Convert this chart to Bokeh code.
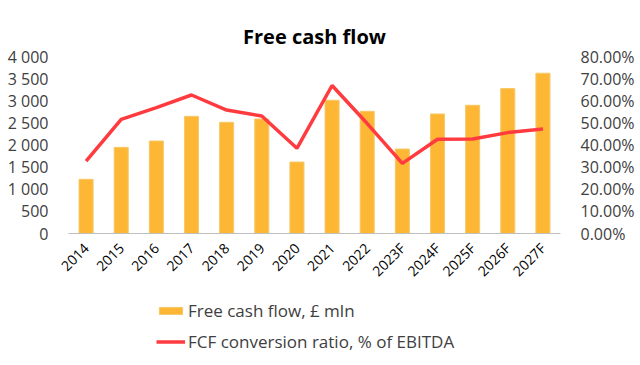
from bokeh.plotting import figure
from bokeh.layouts import column
from bokeh.models import (FactorRange, Range1d, LinearAxis, FixedTicker, CustomJSTickFormatter,
                          NumeralTickFormatter, Legend, LegendItem, ColumnDataSource)
from bokeh.embed import file_html
from bokeh.resources import INLINE
import math

years = ["2014", "2015", "2016", "2017", "2018", "2019", "2020", "2021", "2022",
         "2023F", "2024F", "2025F", "2026F", "2027F"]
fcf = [1225, 1947, 2090, 2648, 2513, 2588, 1615, 3011, 2762, 1909, 2701, 2898, 3275, 3622]
conv = [0.327, 0.516, 0.569, 0.626, 0.558, 0.531, 0.385, 0.669, 0.497, 0.317, 0.426, 0.427, 0.456, 0.472]
left_ticks = [0, 500, 1000, 1500, 2000, 2500, 3000, 3500, 4000]
right_ticks = [0, 0.1, 0.2, 0.3, 0.4, 0.5, 0.6, 0.7, 0.8]
series_names = ["Free cash flow, £ mln", "FCF conversion ratio, % of EBITDA"]

FONT = "Open Sans"
TXT = "#404040"
BAR_COLOR = "#FDB735"
LINE_COLOR = "#FF3B3F"

src = ColumnDataSource(dict(x=years, fcf=fcf, conv=conv))

p = figure(frame_width=492, frame_height=177, x_range=FactorRange(*years, range_padding=0),
           y_range=Range1d(0, 4000), output_backend="svg", toolbar_location=None,
           min_border_left=68, min_border_right=78, min_border_top=56, min_border_bottom=0)
p.extra_y_ranges = {"pct": Range1d(0, 0.8)}
p.outline_line_color = None
p.background_fill_color = "white"
p.xgrid.grid_line_color = None
p.ygrid.grid_line_color = None

p.title.text = "Free cash flow"
p.title.align = "center"
p.title.text_font = FONT
p.title.text_font_style = "bold"
p.title.text_font_size = "20px"
p.title.text_color = "black"
p.title.standoff = 14

p.vbar(x="x", top="fcf", width=0.4, source=src, fill_color=BAR_COLOR,
       line_color="#F4C96A", line_width=1)
p.line(x="x", y="conv", source=src, y_range_name="pct", line_color=LINE_COLOR, line_width=3.5)

ya = p.yaxis[0]
ya.ticker = FixedTicker(ticks=left_ticks)
ya.formatter = CustomJSTickFormatter(code="return tick.toString().replace(/\\B(?=(\\d{3})+(?!\\d))/g, ' ');")
ya.axis_line_color = None
ya.major_tick_line_color = None
ya.minor_tick_line_color = None
ya.major_label_text_font = FONT
ya.major_label_text_font_size = "16px"
ya.major_label_text_color = TXT
ya.major_label_standoff = 14

ra = LinearAxis(y_range_name="pct", ticker=FixedTicker(ticks=right_ticks),
                formatter=NumeralTickFormatter(format="0.00%"))
ra.axis_line_color = None
ra.major_tick_line_color = None
ra.minor_tick_line_color = None
ra.major_label_text_font = FONT
ra.major_label_text_font_size = "16px"
ra.major_label_text_color = TXT
ra.major_label_standoff = 14
p.add_layout(ra, "right")

xa = p.xaxis[0]
xa.axis_line_color = "#BFBFBF"
xa.major_tick_line_color = None
xa.minor_tick_line_color = None
xa.major_label_orientation = math.pi / 4
xa.major_label_text_font = FONT
xa.major_label_text_font_size = "14px"
xa.major_label_text_color = "black"
xa.major_label_standoff = 6

# legend strip below the chart (swatch renderers kept outside the strip's visible range)
lg = figure(width=638, height=80, x_range=Range1d(0, 1), y_range=Range1d(0, 1),
            output_backend="svg", toolbar_location=None, min_border=0)
lg.axis.visible = False
lg.grid.visible = False
lg.outline_line_color = None
r_bar = lg.vbar(x=[-5], top=[-5], bottom=[-6], width=0.1, fill_color=BAR_COLOR, line_color="#F4C96A")
r_line = lg.line(x=[-6, -5], y=[-5, -5], line_color=LINE_COLOR, line_width=3.5)

legend = Legend(items=[LegendItem(label=series_names[0], renderers=[r_bar]),
                       LegendItem(label=series_names[1], renderers=[r_line])],
                orientation="vertical", location=(88, 16))
legend.label_text_font = FONT
legend.label_text_font_size = "17px"
legend.label_text_color = TXT
legend.border_line_color = None
legend.background_fill_alpha = 0
legend.glyph_width = 29
legend.glyph_height = 9
legend.spacing = 8
legend.padding = 0
legend.margin = 0
legend.label_standoff = 3
lg.add_layout(legend, "center")

layout = column(p, lg, spacing=0)
open("out.html", "w").write(file_html(layout, INLINE))
